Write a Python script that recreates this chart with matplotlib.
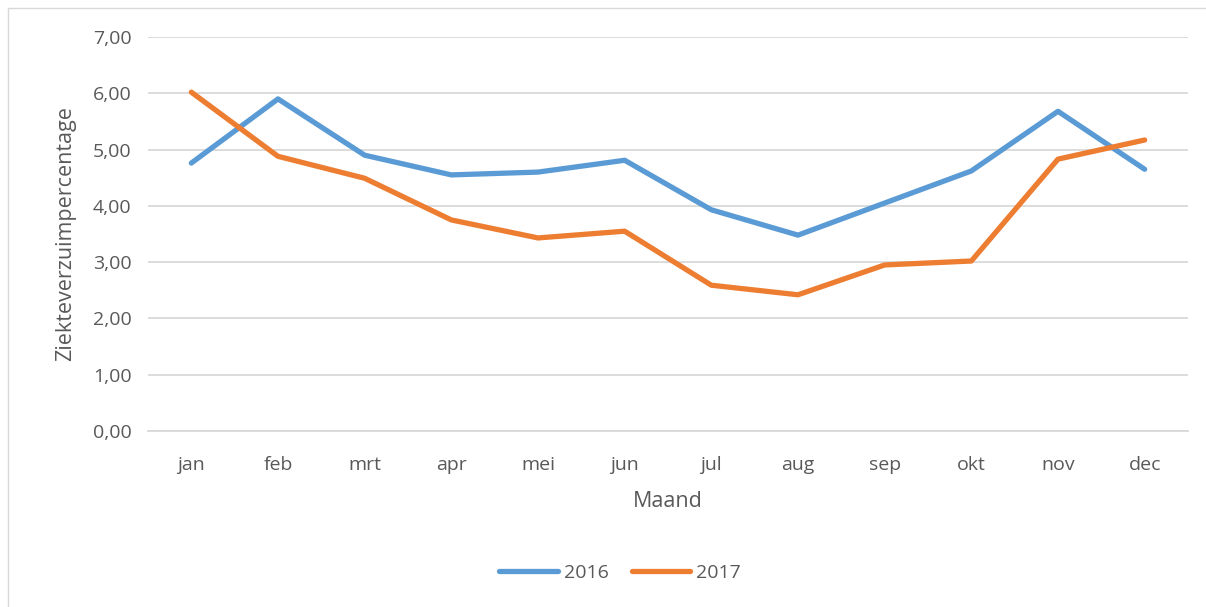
import matplotlib.pyplot as plt
from matplotlib.patches import Rectangle

months = ['jan', 'feb', 'mrt', 'apr', 'mei', 'jun', 'jul', 'aug', 'sep', 'okt', 'nov', 'dec']
verzuim_2016 = [4.76, 5.90, 4.90, 4.55, 4.60, 4.81, 3.93, 3.48, 4.05, 4.62, 5.68, 4.65]
verzuim_2017 = [6.02, 4.88, 4.49, 3.75, 3.43, 3.55, 2.59, 2.42, 2.95, 3.02, 4.83, 5.17]
y_ticks = [0, 1, 2, 3, 4, 5, 6, 7]

plt.rcParams['font.family'] = ['Open Sans', 'DejaVu Sans']
text_color = '#595959'

fig = plt.figure(figsize=(12.06, 6.07), dpi=100)
# chart border
fig.patches.append(Rectangle((8 / 1206, -0.01), 1.02, 1 - 8 / 607 + 0.01,
                             transform=fig.transFigure, fill=False,
                             edgecolor='#D9D9D9', linewidth=1.0))

ax = fig.add_axes([148 / 1206, (607 - 431) / 607, 1040 / 1206, 394 / 607])
x = range(len(months))
ax.plot(x, verzuim_2016, color='#5B9BD5', linewidth=3.8, label='2016',
        solid_capstyle='round', solid_joinstyle='round')
ax.plot(x, verzuim_2017, color='#ED7D31', linewidth=3.8, label='2017',
        solid_capstyle='round', solid_joinstyle='round')

ax.set_xlim(-0.5, 11.5)
ax.set_ylim(0, 7)
ax.set_yticks(y_ticks)
ax.set_yticklabels(['%d,00' % v for v in y_ticks])
ax.set_xticks(list(x))
ax.set_xticklabels(months)
ax.grid(axis='y', color='#D9D9D9', linewidth=1.3)
ax.set_axisbelow(True)
for side in ['top', 'right', 'left']:
    ax.spines[side].set_visible(False)
ax.spines['bottom'].set_color('#D9D9D9')
ax.spines['bottom'].set_linewidth(1.3)
ax.tick_params(axis='both', length=0, labelsize=14, colors=text_color)
ax.tick_params(axis='y', pad=12)
ax.tick_params(axis='x', pad=18)

ax.set_xlabel('Maand', fontsize=15.5, color=text_color, labelpad=12)
ax.set_ylabel('Ziekteverzuimpercentage', fontsize=15.5, color=text_color, labelpad=12)

fig.legend(loc='center', bbox_to_anchor=(620 / 1206, 1 - 573 / 607), ncol=2,
           frameon=False, fontsize=14, labelcolor=text_color,
           handlelength=3.0, columnspacing=1.2, handletextpad=0.3)

plt.savefig('out.png', dpi=100)
plt.close()
